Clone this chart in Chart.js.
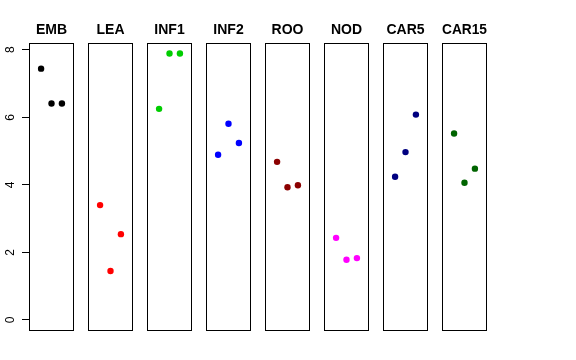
<!DOCTYPE html>
<html>
<head>
<meta charset="utf-8">
<script src="https://cdn.jsdelivr.net/npm/chart.js@4"></script>
<style>
  html, body { margin: 0; padding: 0; background: #fff; }
  #wrap { position: relative; width: 576px; height: 360px; overflow: hidden; }
  #wrap canvas { position: absolute; top: 0; }
</style>
</head>
<body>
<div id="wrap"></div>
<script>
// panel names and point colours
const panels = ['EMB', 'LEA', 'INF1', 'INF2', 'ROO', 'NOD', 'CAR5', 'CAR15'];
const colors = ['#000000', '#FF0000', '#00CD00', '#0000FF', '#8B0000', '#FF00FF', '#000080', '#006400'];

// three replicates per panel, at x = 1, 2, 3
const reps = [1, 2, 3];
const EMB   = [7.44, 6.41, 6.41];
const LEA   = [3.40, 1.45, 2.54];
const INF1  = [6.25, 7.89, 7.89];
const INF2  = [4.89, 5.81, 5.24];
const ROO   = [4.68, 3.93, 3.99];
const NOD   = [2.43, 1.78, 1.83];
const CAR5  = [4.24, 4.97, 6.08];
const CAR15 = [5.52, 4.06, 4.48];
const values = [EMB, LEA, INF1, INF2, ROO, NOD, CAR5, CAR15];

const yTicks = [0, 2, 4, 6, 8];

const FONT = '"Liberation Sans", Arial, Helvetica, sans-serif';

// box around each panel, like R's box()
const frame = {
  id: 'frame',
  afterDraw(chart) {
    const { ctx, chartArea: a } = chart;
    ctx.save();
    ctx.strokeStyle = '#000';
    ctx.lineWidth = 1;
    ctx.strokeRect(Math.round(a.left) + 0.5, Math.round(a.top) + 0.5,
      Math.round(a.right - a.left) - 1, Math.round(a.bottom - a.top) - 1);
    ctx.restore();
  }
};

const wrap = document.getElementById('wrap');

panels.forEach((name, i) => {
  const first = i === 0;
  const cv = document.createElement('canvas');
  const w = first ? 74 : 45;
  const left = first ? 0 : 29 + 59 * i;
  cv.style.left = left + 'px';
  cv.style.width = w + 'px';
  cv.style.height = '360px';
  cv.width = w;
  cv.height = 360;
  wrap.appendChild(cv);

  new Chart(cv, {
    type: 'scatter',
    data: {
      datasets: [{
        data: reps.map((x, k) => ({ x, y: values[i][k] })),
        backgroundColor: colors[i],
        borderColor: colors[i],
        pointRadius: 3.2,
        pointHoverRadius: 3.2,
        borderWidth: 0,
        clip: false
      }]
    },
    plugins: [frame],
    options: {
      responsive: false,
      animation: false,
      events: [],
      layout: { autoPadding: false, padding: { left: 0, right: 0, top: 0, bottom: 29 } },
      plugins: {
        legend: { display: false },
        tooltip: { enabled: false },
        title: {
          display: true,
          fullSize: false,
          text: name,
          color: '#000',
          font: { family: FONT, size: 14, weight: 'bold' },
          padding: { top: 21.6, bottom: 4.6 }
        }
      },
      scales: {
        x: { type: 'linear', min: -0.16, max: 4.16, display: false },
        y: {
          type: 'linear',
          min: -0.328,
          max: 8.2,
          display: first,
          afterBuildTicks: (axis) => { axis.ticks = yTicks.map(v => ({ value: v })); },
          afterFit: (axis) => { axis.width = first ? 29 : 0; },
          border: { display: false },
          grid: { drawOnChartArea: false, color: '#000', tickLength: 7, tickWidth: 1 },
          ticks: {
            color: '#000',
            font: { family: FONT, size: 12 },
            minRotation: 90,
            maxRotation: 90,
            crossAlign: 'center',
            padding: 8
          }
        }
      }
    }
  });
});
</script>
</body>
</html>
